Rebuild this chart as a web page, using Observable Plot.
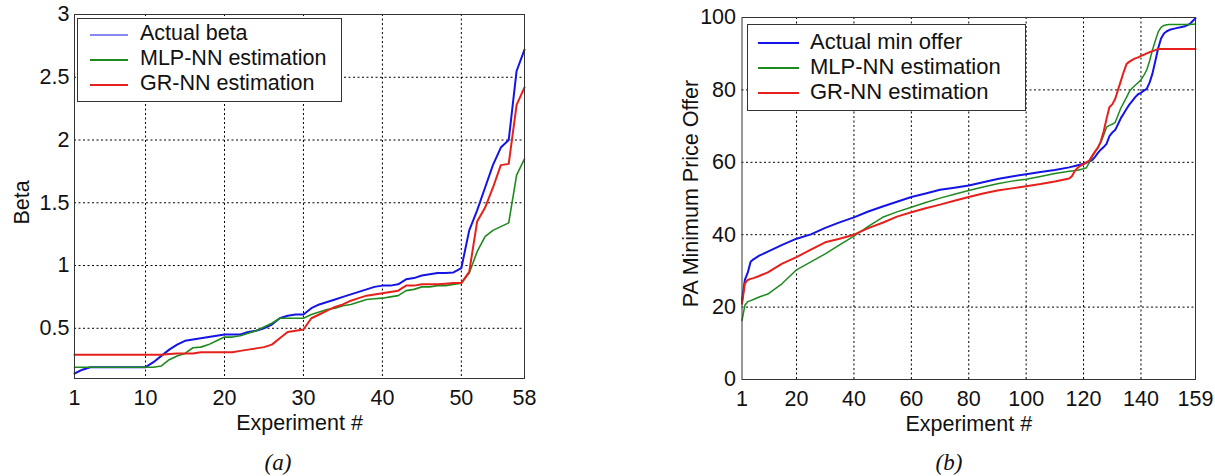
<!DOCTYPE html>
<html>
<head>
<meta charset="utf-8">
<script src="https://cdn.jsdelivr.net/npm/d3@7"></script>
<script src="https://cdn.jsdelivr.net/npm/@observablehq/plot@0.6"></script>
<style>
html, body { margin: 0; padding: 0; background: #fff; }
#wrap { position: relative; width: 1215px; height: 476px; overflow: hidden; font-family: "Liberation Sans", Arial, sans-serif; color: #111; }
.panel { position: absolute; top: 0; }
.legend { position: absolute; background: #fff; border: 1px solid #333; box-sizing: border-box; }
.legend .sw { position: absolute; }
.legend .lab { position: absolute; white-space: nowrap; line-height: 1; }
.caption { position: absolute; font-family: "Liberation Serif", "Times New Roman", serif; font-style: italic; font-size: 23px; line-height: 1; transform: translateX(-50%); white-space: nowrap; }
</style>
</head>
<body>
<div id="wrap"></div>
<script>
// ---------------- DATA ----------------
// Panel (a): Beta vs experiment #
const expA = [1,2,3,4,5,6,7,8,9,10,11,12,13,14,15,16,17,18,19,20,21,22,23,24,25,26,27,28,29,30,31,32,33,34,35,36,37,38,39,40,41,42,43,44,45,46,47,48,49,50,51,52,53,54,55,56,57,58];
const betaActual = [0.14,0.17,0.19,0.19,0.19,0.19,0.19,0.19,0.19,0.19,0.23,0.28,0.33,0.37,0.40,0.41,0.42,0.43,0.44,0.45,0.45,0.45,0.47,0.48,0.50,0.53,0.58,0.60,0.61,0.61,0.66,0.69,0.71,0.73,0.75,0.77,0.79,0.81,0.83,0.84,0.84,0.85,0.89,0.90,0.92,0.93,0.94,0.94,0.945,0.98,1.28,1.44,1.62,1.80,1.94,2.00,2.55,2.72];
const betaMLP = [0.19,0.19,0.19,0.19,0.19,0.19,0.19,0.19,0.19,0.19,0.19,0.20,0.25,0.28,0.30,0.345,0.35,0.37,0.40,0.43,0.43,0.44,0.46,0.48,0.51,0.54,0.58,0.58,0.58,0.58,0.61,0.63,0.65,0.66,0.68,0.69,0.71,0.73,0.735,0.74,0.75,0.76,0.80,0.81,0.83,0.83,0.84,0.84,0.85,0.86,0.94,1.11,1.23,1.28,1.31,1.34,1.72,1.85];
const betaGR = [0.29,0.29,0.29,0.29,0.29,0.29,0.29,0.29,0.29,0.29,0.29,0.29,0.295,0.30,0.30,0.30,0.31,0.31,0.31,0.31,0.31,0.32,0.33,0.34,0.35,0.37,0.42,0.47,0.48,0.49,0.58,0.61,0.64,0.67,0.69,0.72,0.74,0.76,0.77,0.78,0.79,0.80,0.84,0.84,0.85,0.85,0.85,0.855,0.86,0.86,0.95,1.35,1.46,1.62,1.80,1.81,2.28,2.42];
const namesA = ["Actual beta", "MLP-NN estimation", "GR-NN estimation"];
const xTicksA = [1,10,20,30,40,50,58];
const yTicksA = [0.5,1,1.5,2,2.5,3];
const xGridA = [10,20,30,40,50];
const yGridA = [0.5,1,1.5,2,2.5];

// Panel (b): PA minimum price offer vs experiment #
const expB = [1,2,3,4,5,7,10,15,20,25,30,35,40,45,50,55,60,65,70,75,80,85,90,95,100,105,110,115,116,117,118,119,120,121,122,123,124,125,126,127,128,129,130,131,132,133,134,135,136,137,138,139,140,141,142,143,144,145,146,147,148,149,150,152,155,157,159];
const offerActual = [21.8,27.5,29.5,32.5,33.2,34.2,35.3,37.2,38.9,40.1,41.9,43.4,44.8,46.4,47.8,49.1,50.4,51.4,52.4,53.0,53.6,54.5,55.4,56.1,56.7,57.3,57.9,58.6,58.8,59.0,59.2,59.4,59.6,59.9,60.2,60.6,61.5,62.6,63.5,64.2,65.1,67.2,68.2,68.9,70.5,72.2,73.5,74.8,76.0,77.0,78.0,78.8,79.2,79.8,80.3,82.0,84.5,88.0,91.5,94.2,95.6,96.2,96.6,97.0,97.5,98.2,99.8];
const offerMLP = [16.3,20.5,21.5,21.8,22.1,22.8,23.6,26.5,30.3,32.5,34.7,37.2,39.6,42.3,44.8,46.3,47.6,48.9,50.1,51.2,52.2,53.2,54.1,54.8,55.3,56.1,56.9,57.5,57.6,57.7,57.8,58.0,58.2,58.5,60.0,61.5,62.8,64.2,65.5,67.5,69.7,70.2,70.5,71.0,73.0,75.0,76.5,78.0,79.6,80.5,81.3,82.0,82.8,84.0,85.5,88.0,91.0,93.6,96.0,97.3,97.8,98.0,98.1,98.1,98.1,98.1,98.2];
const offerGR = [20.9,26.5,27.5,27.8,28.0,28.6,29.6,32.0,33.8,35.9,37.9,38.9,40.0,41.8,43.3,45.0,46.2,47.3,48.3,49.4,50.4,51.4,52.2,52.8,53.4,54.0,54.7,55.5,56.2,57.7,58.5,59.1,59.5,60.0,60.5,61.8,63.0,64.0,65.8,68.5,72.0,75.2,76.0,77.5,80.0,82.5,85.0,87.2,87.8,88.3,88.7,89.0,89.4,89.7,90.1,90.4,90.7,91.0,91.3,91.3,91.3,91.3,91.3,91.3,91.3,91.3,91.3];
const namesB = ["Actual min offer", "MLP-NN estimation", "GR-NN estimation"];
const xTicksB = [1,20,40,60,80,100,120,140,159];
const yTicksB = [0,20,40,60,80,100];
const xGridB = [20,40,60,80,100,120,140];
const yGridB = [20,40,60,80];

const seriesColors = ["#1414e6", "#1e8a1e", "#e6201a"];

// ---------------- DRAW ----------------
const wrap = document.getElementById("wrap");
const FONT = '"Liberation Sans", Arial, sans-serif';

function rows(xs, ys, name) { return xs.map((x, i) => ({x, y: ys[i], series: name})); }

function makePanel(cfg) {
  const gridStyle = {stroke: "#000", strokeOpacity: 1, strokeWidth: 1, strokeDasharray: "2,2.5"};
  const marks = [
    Plot.gridX(cfg.xGrid, gridStyle),
    Plot.gridY(cfg.yGrid, gridStyle)
  ];
  cfg.series.forEach((s, i) => {
    marks.push(Plot.line(rows(cfg.xs, s, cfg.names[i]), {x: "x", y: "y", stroke: seriesColors[i], strokeWidth: cfg.widths[i], strokeLinejoin: "round"}));
  });
  marks.push(
    Plot.frame({stroke: "#333", strokeWidth: 1}),
    Plot.axisX(cfg.xTicks, {tickSize: 0, tickPadding: 11, tickFormat: d => String(d), label: null, fill: "#111"}),
    Plot.axisY(cfg.yTicks, {tickSize: 0, tickPadding: cfg.yPad, tickFormat: d => String(d), label: null, fill: "#111"}),
    Plot.text([cfg.xLabel], {text: d => d, frameAnchor: "bottom", textAnchor: "middle", dy: 51, fill: "#111"}),
    Plot.text([cfg.yLabel], {text: d => d, frameAnchor: "left", textAnchor: "middle", rotate: -90, dx: cfg.yLabelDx, dy: cfg.yLabelDy, fill: "#111"})
  );
  const svg = Plot.plot({
    width: cfg.width, height: 430,
    marginLeft: cfg.ml, marginRight: cfg.mr, marginTop: cfg.mt, marginBottom: cfg.mb,
    x: {type: "linear", domain: cfg.xDomain},
    y: {type: "linear", domain: cfg.yDomain},
    style: {fontFamily: FONT, fontSize: "21.5px", background: "transparent", overflow: "visible"},
    marks
  });
  const holder = document.createElement("div");
  holder.className = "panel";
  holder.style.left = cfg.left + "px";
  holder.appendChild(svg);
  wrap.appendChild(holder);
}

function makeLegend(cfg) {
  const box = document.createElement("div");
  box.className = "legend";
  Object.assign(box.style, {left: cfg.left + "px", top: cfg.top + "px", width: cfg.width + "px", height: cfg.height + "px"});
  cfg.names.forEach((name, i) => {
    const cy = cfg.row0 + i * cfg.gap;
    const sw = document.createElementNS("http://www.w3.org/2000/svg", "svg");
    sw.setAttribute("class", "sw");
    sw.setAttribute("width", cfg.lineLen);
    sw.setAttribute("height", 6);
    sw.style.left = cfg.lineX + "px";
    sw.style.top = (cy - 3) + "px";
    const ln = document.createElementNS("http://www.w3.org/2000/svg", "line");
    ln.setAttribute("x1", 0); ln.setAttribute("x2", cfg.lineLen);
    ln.setAttribute("y1", 3); ln.setAttribute("y2", 3);
    ln.setAttribute("stroke", seriesColors[i]);
    ln.setAttribute("stroke-width", cfg.widths[i]);
    sw.appendChild(ln);
    box.appendChild(sw);
    const t = document.createElement("div");
    t.className = "lab";
    t.textContent = name;
    t.style.fontSize = cfg.fontSize + "px";
    t.style.left = cfg.textX + "px";
    t.style.top = (cy - cfg.fontSize * 0.55) + "px";
    box.appendChild(t);
  });
  wrap.appendChild(box);
}

function makeCaption(text, cx, top) {
  const c = document.createElement("div");
  c.className = "caption";
  c.textContent = text;
  c.style.left = cx + "px";
  c.style.top = top + "px";
  wrap.appendChild(c);
}

makePanel({
  left: 0, width: 560, ml: 74, mr: 36, mt: 14, mb: 52,
  xDomain: [1, 58], yDomain: [0.1, 3],
  xs: expA, series: [betaActual, betaMLP, betaGR], names: namesA, widths: [2, 1.6, 2],
  xTicks: xTicksA, yTicks: yTicksA, xGrid: xGridA, yGrid: yGridA, yPad: 5,
  xLabel: "Experiment #", yLabel: "Beta", yLabelDx: -52, yLabelDy: 6
});
makePanel({
  left: 600, width: 615, ml: 141.5, mr: 20, mt: 17, mb: 51,
  xDomain: [1, 159], yDomain: [0, 100],
  xs: expB, series: [offerActual, offerMLP, offerGR], names: namesB, widths: [2, 1.5, 2],
  xTicks: xTicksB, yTicks: yTicksB, xGrid: xGridB, yGrid: yGridB, yPad: 6,
  xLabel: "Experiment #", yLabel: "PA Minimum Price Offer", yLabelDx: -51, yLabelDy: -5
});

makeLegend({left: 77, top: 18, width: 265, height: 84, names: namesA, row0: 16, gap: 25,
  lineX: 12, lineLen: 38, textX: 62, fontSize: 21.5, widths: [1.2, 2, 2]});
makeLegend({left: 747, top: 24, width: 279, height: 87, names: namesB, row0: 18, gap: 25,
  lineX: 10, lineLen: 41, textX: 62, fontSize: 22, widths: [2, 2, 2]});

makeCaption("(a)", 278, 451);
makeCaption("(b)", 949, 451);
</script>
</body>
</html>
